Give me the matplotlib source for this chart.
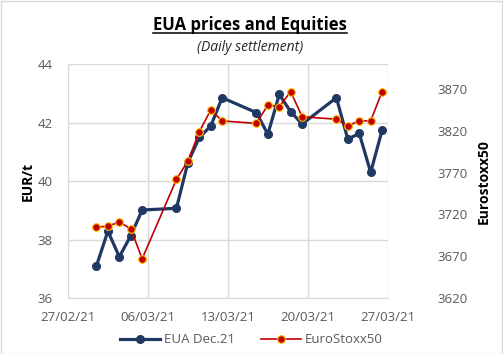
import matplotlib
matplotlib.use("Agg")
import matplotlib.pyplot as plt
import matplotlib.dates as mdates
import pandas as pd
from matplotlib.patches import Rectangle

dates = ["2021-03-01", "2021-03-02", "2021-03-03", "2021-03-04", "2021-03-05",
         "2021-03-08", "2021-03-09", "2021-03-10", "2021-03-11", "2021-03-12",
         "2021-03-15", "2021-03-16", "2021-03-17", "2021-03-18", "2021-03-19",
         "2021-03-22", "2021-03-23", "2021-03-24", "2021-03-25", "2021-03-26"]
eua = [37.10, 38.29, 37.41, 38.13, 39.01,
       39.07, 40.63, 41.49, 41.88, 42.85,
       42.34, 41.60, 42.96, 42.37, 41.95,
       42.85, 41.43, 41.63, 40.30, 41.74]
stoxx = [3705, 3706, 3711, 3703, 3667,
         3762, 3784, 3819, 3845, 3832,
         3829, 3851, 3849, 3867, 3837,
         3834, 3826, 3832, 3832, 3867]
tick_dates = ["2021-02-27", "2021-03-06", "2021-03-13", "2021-03-20", "2021-03-27"]

plt.rcParams['font.family'] = ['Open Sans', 'DejaVu Sans']

x = pd.to_datetime(dates) + pd.Timedelta(hours=12)
ticks = pd.to_datetime(tick_dates)

fig = plt.figure(figsize=(5.03, 3.54), dpi=100)
ax = fig.add_axes([0.135, 0.158, 0.636, 0.661])
ax2 = ax.twinx()

grid_c = "#d9d9d9"
tick_c = "#595959"

ax.plot(x, eua, color="#1F3864", lw=2.3, marker="o", ms=5.5, label="EUA Dec.21", zorder=3)
ax2.plot(x, stoxx, color="#C00000", lw=1.2, marker="o", ms=5.5,
         markerfacecolor="#C00000", markeredgecolor="#FFC000", markeredgewidth=0.8,
         label="EuroStoxx50", zorder=3)

ax.set_xlim(ticks[0], ticks[-1])
ax.set_ylim(36, 44)
ax.set_yticks([36, 38, 40, 42, 44])
ax2.set_ylim(3620, 3900)
ax2.set_yticks([3620, 3670, 3720, 3770, 3820, 3870])
ax.set_xticks(ticks)
ax.xaxis.set_major_formatter(mdates.DateFormatter("%d/%m/%y"))

ax.grid(True, color=grid_c, lw=1)
ax.set_axisbelow(True)
for a in (ax, ax2):
    for s in a.spines.values():
        s.set_visible(False)
    a.tick_params(length=0, colors=tick_c, labelsize=9.5)
ax.spines['left'].set_visible(True)
ax.spines['left'].set_color(grid_c)
ax.spines['bottom'].set_visible(True)
ax.spines['bottom'].set_color(grid_c)
ax.tick_params(axis='y', pad=11)
ax2.tick_params(axis='y', pad=36)
ax.tick_params(axis='x', pad=9)

ax.set_ylabel("EUR/t", fontsize=10, fontweight="bold", color="black", labelpad=2)
ax2.set_ylabel("Eurostoxx50", fontsize=10, fontweight="bold", color="black", labelpad=6)

title = fig.text(0.497, 0.929, "EUA prices and Equities", ha="center", va="center",
                 fontsize=12, fontweight="bold")
fig.text(0.497, 0.867, "(Daily settlement)", ha="center", va="center",
         fontsize=10, style="italic", color="#262626")

# underline the title using its rendered extent
fig.canvas.draw()
bb = title.get_window_extent().transformed(fig.transFigure.inverted())
fig.add_artist(plt.Line2D([bb.x0, bb.x1], [bb.y0 + 0.004, bb.y0 + 0.004], color="black", lw=1.1,
                          transform=fig.transFigure))

h1, l1 = ax.get_legend_handles_labels()
h2, l2 = ax2.get_legend_handles_labels()
fig.legend(h1 + h2, l1 + l2, loc="center", bbox_to_anchor=(0.5, 0.04), ncol=2,
           frameon=False, fontsize=9.5, handlelength=3, columnspacing=2,
           labelcolor=tick_c, handletextpad=0.3)

fig.add_artist(Rectangle((0.001, 0.001), 0.997, 0.997, transform=fig.transFigure,
                         fill=False, edgecolor="#d9d9d9", lw=1))

fig.savefig("out.png", dpi=100)
